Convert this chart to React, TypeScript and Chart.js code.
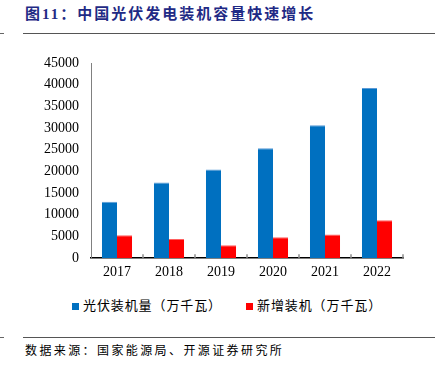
import React, { useEffect, useRef } from "react";
import { Chart, registerables } from "chart.js";

Chart.register(...registerables);

const categories = ["2017", "2018", "2019", "2020", "2021", "2022"];
const cumulativeValues = [13025, 17446, 20430, 25343, 30656, 39261];
const newValues = [5306, 4426, 3011, 4820, 5488, 8741];
const seriesNames = ["光伏装机量（万千瓦）", "新增装机（万千瓦）"];
const seriesColors = ["#0070C0", "#FF0000"];
const titleText = "图11：中国光伏发电装机容量快速增长";
const sourceText = "数据来源：国家能源局、开源证券研究所";

const FONT = "'Liberation Serif', 'Times New Roman', 'Noto Sans CJK SC', serif";

const innerTicks = {
  id: "innerTicks",
  afterDraw(chart: any) {
    const x = chart.scales.x;
    const ctx = chart.ctx;
    const bottom = chart.chartArea.bottom;
    ctx.save();
    ctx.strokeStyle = "#8c8c8c";
    ctx.lineWidth = 1.5;
    for (let i = 0; i < categories.length; i++) {
      const c = x.getPixelForValue(i);
      const next = i + 1 < categories.length ? x.getPixelForValue(i + 1) : c + (c - x.getPixelForValue(i - 1));
      const b = (c + next) / 2;
      ctx.beginPath();
      ctx.moveTo(b, bottom);
      ctx.lineTo(b, bottom - 4);
      ctx.stroke();
    }
    ctx.restore();
  },
};

export default function App() {
  const ref = useRef<HTMLCanvasElement | null>(null);
  useEffect(() => {
    document.body.style.margin = "0";
    if (!ref.current) return;
    const chart = new Chart(ref.current, {
      type: "bar",
      data: {
        labels: categories,
        datasets: [
          {
            label: seriesNames[0],
            data: cumulativeValues,
            backgroundColor: seriesColors[0],
            borderColor: "#5A9AD6",
            borderWidth: { top: 1, left: 0, right: 0, bottom: 0 },
            borderSkipped: false,
            categoryPercentage: 0.58,
            barPercentage: 1,
          },
          {
            label: seriesNames[1],
            data: newValues,
            backgroundColor: seriesColors[1],
            borderColor: "#FF6060",
            borderWidth: { top: 1, left: 0, right: 0, bottom: 0 },
            borderSkipped: false,
            categoryPercentage: 0.58,
            barPercentage: 1,
          },
        ],
      },
      options: {
        animation: false,
        responsive: false,
        maintainAspectRatio: false,
        layout: { padding: { top: 23, right: 34, left: 0, bottom: 3 } },
        plugins: {
          legend: { display: false },
          tooltip: { enabled: false },
          title: { display: false },
        },
        scales: {
          x: {
            grid: { display: false, drawTicks: false },
            border: { display: true, color: "#000", width: 1.5 },
            ticks: { color: "#000", font: { family: FONT, size: 14 }, padding: 6 },
          },
          y: {
            min: 0,
            max: 45000,
            afterFit(scale: any) {
              scale.width = 77;
            },
            grid: { display: false, drawTicks: false },
            border: { display: true, color: "#808080", width: 1 },
            ticks: {
              stepSize: 5000,
              color: "#000",
              font: { family: FONT, size: 14 },
              padding: 12,
              callback: (v: any) => String(v),
            },
          },
        },
      },
      plugins: [innerTicks],
    });
    return () => chart.destroy();
  }, []);

  const legendText = {
    fontFamily: FONT,
    fontSize: 13,
    letterSpacing: 0.9,
    color: "#000",
    whiteSpace: "nowrap" as const,
    lineHeight: "16px",
    position: "absolute" as const,
    top: 298,
  };

  return (
    <div style={{ position: "fixed", left: 0, top: 0, width: 437, height: 372, background: "#fff", overflow: "hidden" }}>
      <div
        style={{
          position: "absolute",
          left: 25,
          top: 4,
          fontFamily: FONT,
          fontWeight: "bold",
          fontSize: 15,
          letterSpacing: 2,
          color: "#1F2A85",
          whiteSpace: "nowrap",
          lineHeight: "20px",
        }}
      >
        {titleText}
      </div>
      <div style={{ position: "absolute", left: 0, top: 33, width: 4, height: 1, background: "#666" }} />
      <div style={{ position: "absolute", left: 23, top: 33, width: 412, height: 1, background: "#555" }} />
      <canvas ref={ref} width={423} height={250} style={{ position: "absolute", left: 14, top: 40, width: 423, height: 250 }} />
      <div style={{ position: "absolute", left: 72, top: 303, width: 7, height: 7, background: seriesColors[0] }} />
      <div style={{ ...legendText, left: 83 }}>{seriesNames[0]}</div>
      <div style={{ position: "absolute", left: 246, top: 303, width: 7, height: 7, background: seriesColors[1] }} />
      <div style={{ ...legendText, left: 257 }}>{seriesNames[1]}</div>
      <div style={{ position: "absolute", left: 0, top: 337, width: 4, height: 1, background: "#666" }} />
      <div style={{ position: "absolute", left: 23, top: 337, width: 412, height: 1, background: "#555" }} />
      <div
        style={{
          position: "absolute",
          left: 25,
          top: 342,
          fontFamily: FONT,
          fontSize: 12,
          letterSpacing: 2.4,
          color: "#000",
          whiteSpace: "nowrap",
          lineHeight: "18px",
        }}
      >
        {sourceText}
      </div>
    </div>
  );
}
